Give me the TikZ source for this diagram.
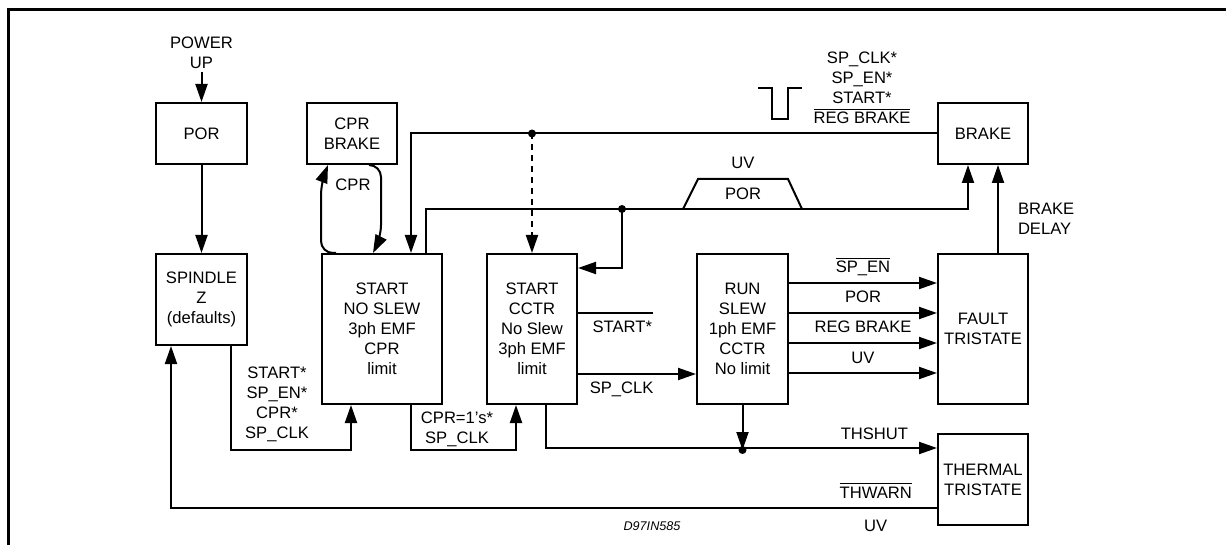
\documentclass[tikz,border=0pt]{standalone}
\usepackage{fontspec}
\setmainfont{Liberation Sans}
\usetikzlibrary{arrows.meta,calc}

\begin{document}
\begin{tikzpicture}[x=0.5pt,y=-0.5pt,line width=1pt,>={Triangle[length=9pt,width=6pt]},
    font=\fontsize{8.3}{10}\selectfont]
            \tikzstyle{block}=[draw=black,fill=white,align=center,inner sep=0pt,line width=1pt]
            \tikzstyle{lbl}=[align=center,inner sep=1pt]
            \tikzstyle{jdot}=[fill=black]
        \useasboundingbox (0,0) rectangle (1226,545);
        \draw[line width=1.5pt] (8,545) -- (8,9.5) -- (1226,9.5);

        % state boxes
                    \node[block,minimum width=45.5pt,minimum height=30.5pt] (por) at (201.5,133.5) {POR};
                    \node[block,minimum width=45pt,minimum height=30.5pt] (cprb) at (352,133.5) {CPR\\BRAKE};
                    \node[block,minimum width=45pt,minimum height=30.5pt] (brake) at (983,133.5) {BRAKE};
                    \node[block,minimum width=45.5pt,minimum height=45.5pt] (spindle) at (201.5,299.5) {SPINDLE\\Z\\(defaults)};
                    \node[block,minimum width=60pt,minimum height=75pt] (nsl) at (382,329) {START\\NO SLEW\\3ph EMF\\CPR\\limit};
                    \node[block,minimum width=45pt,minimum height=75pt] (cctr) at (532,329) {START\\CCTR\\No Slew\\3ph EMF\\limit};
                    \node[block,minimum width=45.5pt,minimum height=75pt] (run) at (742.5,329) {RUN\\SLEW\\1ph EMF\\CCTR\\No limit};
                    \node[block,minimum width=45pt,minimum height=75pt] (fault) at (983,329) {FAULT\\TRISTATE};
                    \node[block,minimum width=45pt,minimum height=45.5pt] (thermal) at (983,479.5) {THERMAL\\TRISTATE};

        % power up
                    \node[lbl] (pwr) at (201.5,53) {POWER\\UP};
                    \draw[->] (pwr.south) -- (por.north);
                    \draw[->] (por) -- (spindle);

        % CPR loop
                    \draw[->,rounded corners=6pt] ($(nsl.north west)+(15,0)$) -- (nsl.north west) -- ++(0,-70) -- ($(cprb.south west)+(22,0)$);
                    \draw[->,rounded corners=6pt] ($(cprb.south west)+(63,0)$) -- ($(cprb.south west)+(75,0)$) -- ++(0,72) -- ($(nsl.north west)+(52,0)$);
                    \node[lbl] (cprl) at (353,185) {CPR};

        % brake line
                    \coordinate (bj) at (cctr.north |- brake.west);
                    \draw[->] (brake.west) -| ($(nsl.north west)+(90,0)$);
                    \draw[->,dash pattern=on 3pt off 2.5pt] (bj) -- (cctr.north);
                    \fill[jdot] (bj) circle (2pt);
                    \draw (758,88) -- ++(14,0) -- ++(0,31) -- ++(16,0) -- ++(0,-31) -- ++(14,0);
                    \node[lbl] (brsig) at (862,88) {SP\_CLK*\\SP\_EN*\\START*\\$\overline{\mbox{REG BRAKE}}$};

        % UV / POR line
                    \coordinate (uvj) at (622,209);
                    \draw[->] ($(nsl.north west)+(105,0)$) |- (uvj) -| ($(brake.south)+(-15,0)$);
                    \draw[->] (uvj) |- ($(cctr.north east)+(0,15)$);
                    \fill[jdot] (uvj) circle (2pt);
                    \draw (683,209) -- (698,179) -- (788,179) -- (802,209);
                    \node[lbl] (uvpor) at (743,194) {POR};
                    \node[lbl] (uvuv) at (743,163) {UV};

        % brake delay
                    \draw[->] ($(fault.north)+(15,0)$) -- ($(brake.south)+(15,0)$);
                    \node[lbl,anchor=west,align=left] (bdl) at (1015,218.5) {BRAKE\\DELAY};

        % run to fault
                \foreach \dy/\sig in {30/{$\overline{\mbox{SP\_EN}}$}, 60/POR, 90/REG BRAKE, 120/UV}
                    \draw[->] ($(run.north east)+(0,\dy)$) -- ($(fault.north west)+(0,\dy)$)
                        node[midway,lbl,anchor=base,yshift=5pt] {\sig};

        % start cctr to run
                    \draw ($(cctr.north east)+(0,60)$) -- ++(75,0)
                        node[lbl,anchor=base east,yshift=-10pt,inner sep=0pt] {START*};
                    \draw[->] ($(cctr.north east)+(0,121)$) -- ($(run.north west)+(0,121)$)
                        node[pos=0.37,lbl,anchor=base,yshift=-9.5pt] {SP\_CLK};

        % spindle to start
                    \draw[->] ($(spindle.south west)+(76,0)$) |- ($(nsl.south west)+(30,45)$) -- ($(nsl.south west)+(30,0)$);
                    \node[lbl] (spl) at (277,404) {START*\\SP\_EN*\\CPR*\\SP\_CLK};
                    \draw[->] ($(nsl.south west)+(90,0)$) |- ($(cctr.south west)+(30,45)$) -- ($(cctr.south west)+(30,0)$);
                    \node[lbl] (cprl2) at (457,429) {CPR=1's*\\SP\_CLK};

        % thermal
                    \coordinate (rj) at ($(run.south)+(0,45)$);
                    \draw[->] ($(cctr.south west)+(60,0)$) |- ($(thermal.north west)+(0,15)$)
                        node[pos=0.92,lbl,anchor=base,yshift=4.5pt] {THSHUT};
                    \draw[->] (run.south) -- (rj);
                    \fill[jdot] (rj) circle (2pt);
                    \draw[->] ($(thermal.north west)+(0,75)$) -| ($(spindle.south west)+(16,0)$)
                        node[pos=0.04,lbl,anchor=base,yshift=5pt] {$\overline{\mbox{THWARN}}$}
                        node[pos=0.04,lbl,anchor=base,yshift=-11.5pt] {UV};

                    \node[font=\fontsize{6.3}{7}\selectfont\itshape] (tag) at (652,526) {D97IN585};
        \end{tikzpicture}
\end{document}
